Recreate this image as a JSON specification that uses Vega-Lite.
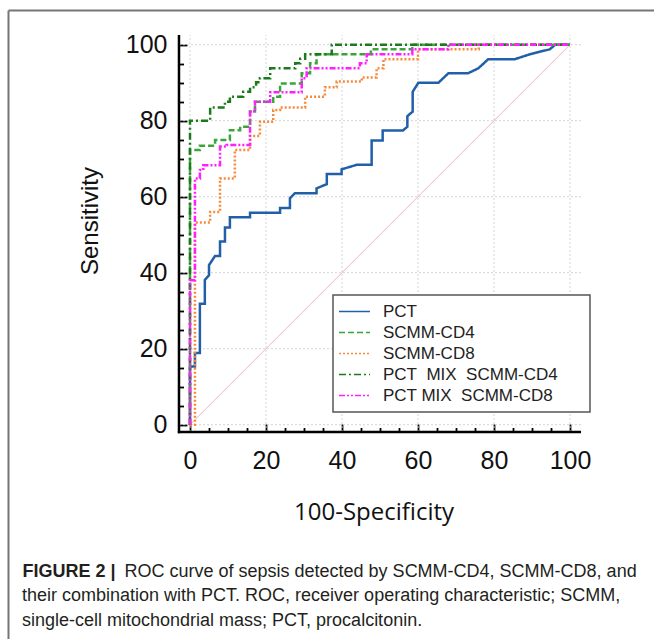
{
  "$schema": "https://vega.github.io/schema/vega-lite/v6.json",
  "width": 646,
  "height": 629,
  "autosize": {"type": "none"},
  "padding": {"left": 8, "top": 10, "right": 0, "bottom": 0},
  "background": "#ffffff",
  "config": {"view": {"stroke": null}, "legend": {"strokeWidth": 1.5, "symbolStrokeWidth": 1.3}},
  "title": {
    "text": ["their combination with PCT. ROC, receiver operating characteristic; SCMM,", "single-cell mitochondrial mass; PCT, procalcitonin."],
    "orient": "bottom",
    "anchor": "start",
    "frame": "group",
    "offset": 0,
    "dx": 14,
    "dy": -38,
    "baseline": "alphabetic",
    "font": "Liberation Sans",
    "fontSize": 18,
    "fontWeight": "normal",
    "color": "#231f20",
    "lineHeight": 24.5
  },
  "datasets": {
    "grid": [{"g": 0}, {"g": 20}, {"g": 40}, {"g": 60}, {"g": 80}, {"g": 100}],
    "roc": [
      {"s": "PCT", "x": 0, "y": 0}, {"s": "PCT", "x": 0, "y": 15.3}, {"s": "PCT", "x": 1.3, "y": 15.3}, {"s": "PCT", "x": 1.3, "y": 18.9}, {"s": "PCT", "x": 2.6, "y": 18.9}, {"s": "PCT", "x": 2.6, "y": 31.8}, {"s": "PCT", "x": 3.9, "y": 31.8}, {"s": "PCT", "x": 3.9, "y": 38.1}, {"s": "PCT", "x": 5, "y": 39.3}, {"s": "PCT", "x": 5, "y": 42}, {"s": "PCT", "x": 6.6, "y": 44.4}, {"s": "PCT", "x": 7.9, "y": 44.4}, {"s": "PCT", "x": 7.9, "y": 48.2}, {"s": "PCT", "x": 9.2, "y": 48.2}, {"s": "PCT", "x": 9.2, "y": 51.9}, {"s": "PCT", "x": 10.5, "y": 51.9}, {"s": "PCT", "x": 10.5, "y": 54.6}, {"s": "PCT", "x": 15.8, "y": 54.6}, {"s": "PCT", "x": 15.8, "y": 55.8}, {"s": "PCT", "x": 23.7, "y": 55.8}, {"s": "PCT", "x": 23.7, "y": 57}, {"s": "PCT", "x": 26.3, "y": 57}, {"s": "PCT", "x": 26.3, "y": 59.6}, {"s": "PCT", "x": 27.6, "y": 60.9}, {"s": "PCT", "x": 33.3, "y": 60.9}, {"s": "PCT", "x": 33.3, "y": 62.2}, {"s": "PCT", "x": 36, "y": 63.3}, {"s": "PCT", "x": 36, "y": 66}, {"s": "PCT", "x": 39.9, "y": 66}, {"s": "PCT", "x": 39.9, "y": 67.2}, {"s": "PCT", "x": 43.9, "y": 68.4}, {"s": "PCT", "x": 47.8, "y": 68.4}, {"s": "PCT", "x": 47.8, "y": 74.8}, {"s": "PCT", "x": 50.7, "y": 74.8}, {"s": "PCT", "x": 50.7, "y": 77.4}, {"s": "PCT", "x": 56, "y": 77.4}, {"s": "PCT", "x": 57.2, "y": 78.4}, {"s": "PCT", "x": 57.2, "y": 81.2}, {"s": "PCT", "x": 58.6, "y": 82.4}, {"s": "PCT", "x": 58.6, "y": 87.6}, {"s": "PCT", "x": 60.1, "y": 90}, {"s": "PCT", "x": 65.4, "y": 90}, {"s": "PCT", "x": 68, "y": 92.5}, {"s": "PCT", "x": 73.2, "y": 92.5}, {"s": "PCT", "x": 75.9, "y": 93.8}, {"s": "PCT", "x": 78.5, "y": 96.2}, {"s": "PCT", "x": 85.5, "y": 96.2}, {"s": "PCT", "x": 89.5, "y": 97.5}, {"s": "PCT", "x": 94.7, "y": 98.8}, {"s": "PCT", "x": 96.1, "y": 100}, {"s": "PCT", "x": 100, "y": 100},
      {"s": "CD4", "x": 0, "y": 0}, {"s": "CD4", "x": 0, "y": 72.3}, {"s": "CD4", "x": 2.6, "y": 72.3}, {"s": "CD4", "x": 2.6, "y": 73.4}, {"s": "CD4", "x": 6.6, "y": 73.4}, {"s": "CD4", "x": 6.6, "y": 74.9}, {"s": "CD4", "x": 10.5, "y": 74.9}, {"s": "CD4", "x": 10.5, "y": 77.5}, {"s": "CD4", "x": 13.2, "y": 77.5}, {"s": "CD4", "x": 13.2, "y": 78.4}, {"s": "CD4", "x": 15.8, "y": 78.4}, {"s": "CD4", "x": 15.8, "y": 82.4}, {"s": "CD4", "x": 17.1, "y": 82.4}, {"s": "CD4", "x": 17.1, "y": 85}, {"s": "CD4", "x": 21.9, "y": 85}, {"s": "CD4", "x": 21.9, "y": 86.3}, {"s": "CD4", "x": 23.7, "y": 86.3}, {"s": "CD4", "x": 23.7, "y": 89.8}, {"s": "CD4", "x": 29.4, "y": 89.8}, {"s": "CD4", "x": 29.4, "y": 92.5}, {"s": "CD4", "x": 31.6, "y": 92.5}, {"s": "CD4", "x": 31.6, "y": 95.1}, {"s": "CD4", "x": 33.3, "y": 95.1}, {"s": "CD4", "x": 33.3, "y": 97.5}, {"s": "CD4", "x": 47.6, "y": 97.5}, {"s": "CD4", "x": 47.6, "y": 98.8}, {"s": "CD4", "x": 58.5, "y": 98.8}, {"s": "CD4", "x": 58.5, "y": 100}, {"s": "CD4", "x": 100, "y": 100},
      {"s": "CD8", "x": 0, "y": 0}, {"s": "CD8", "x": 1.3, "y": 0}, {"s": "CD8", "x": 1.3, "y": 53.2}, {"s": "CD8", "x": 5.3, "y": 53.2}, {"s": "CD8", "x": 5.3, "y": 56}, {"s": "CD8", "x": 7.9, "y": 56}, {"s": "CD8", "x": 7.9, "y": 64.8}, {"s": "CD8", "x": 11.8, "y": 64.8}, {"s": "CD8", "x": 11.8, "y": 72.3}, {"s": "CD8", "x": 15.8, "y": 72.3}, {"s": "CD8", "x": 15.8, "y": 76}, {"s": "CD8", "x": 18.4, "y": 76}, {"s": "CD8", "x": 18.4, "y": 79.7}, {"s": "CD8", "x": 21.9, "y": 79.7}, {"s": "CD8", "x": 21.9, "y": 82.8}, {"s": "CD8", "x": 23.7, "y": 82.8}, {"s": "CD8", "x": 23.7, "y": 83.5}, {"s": "CD8", "x": 30.3, "y": 83.5}, {"s": "CD8", "x": 30.3, "y": 86.3}, {"s": "CD8", "x": 35.5, "y": 86.3}, {"s": "CD8", "x": 35.5, "y": 88.8}, {"s": "CD8", "x": 38.6, "y": 88.8}, {"s": "CD8", "x": 38.6, "y": 90.3}, {"s": "CD8", "x": 45.2, "y": 90.3}, {"s": "CD8", "x": 45.2, "y": 91.4}, {"s": "CD8", "x": 49.1, "y": 91.4}, {"s": "CD8", "x": 49.1, "y": 93.8}, {"s": "CD8", "x": 50.9, "y": 93.8}, {"s": "CD8", "x": 50.9, "y": 96.2}, {"s": "CD8", "x": 60, "y": 96.2}, {"s": "CD8", "x": 60, "y": 98.8}, {"s": "CD8", "x": 76, "y": 98.8}, {"s": "CD8", "x": 76, "y": 100}, {"s": "CD8", "x": 100, "y": 100},
      {"s": "MIX4", "x": 0, "y": 0}, {"s": "MIX4", "x": 0, "y": 80}, {"s": "MIX4", "x": 5.3, "y": 80}, {"s": "MIX4", "x": 5.3, "y": 83.5}, {"s": "MIX4", "x": 9.2, "y": 83.5}, {"s": "MIX4", "x": 9.2, "y": 85}, {"s": "MIX4", "x": 10.5, "y": 85}, {"s": "MIX4", "x": 10.5, "y": 86.3}, {"s": "MIX4", "x": 14, "y": 86.3}, {"s": "MIX4", "x": 14, "y": 87.6}, {"s": "MIX4", "x": 15.8, "y": 87.6}, {"s": "MIX4", "x": 15.8, "y": 88.8}, {"s": "MIX4", "x": 17.4, "y": 88.8}, {"s": "MIX4", "x": 17.4, "y": 90.1}, {"s": "MIX4", "x": 18.4, "y": 90.1}, {"s": "MIX4", "x": 18.4, "y": 91.2}, {"s": "MIX4", "x": 21.1, "y": 91.2}, {"s": "MIX4", "x": 21.1, "y": 93.8}, {"s": "MIX4", "x": 27.7, "y": 93.8}, {"s": "MIX4", "x": 27.7, "y": 95.1}, {"s": "MIX4", "x": 29, "y": 95.1}, {"s": "MIX4", "x": 29, "y": 96.3}, {"s": "MIX4", "x": 30.3, "y": 96.3}, {"s": "MIX4", "x": 30.3, "y": 97.5}, {"s": "MIX4", "x": 37.3, "y": 97.5}, {"s": "MIX4", "x": 37.3, "y": 100}, {"s": "MIX4", "x": 100, "y": 100},
      {"s": "MIX8", "x": 0, "y": 0}, {"s": "MIX8", "x": 0, "y": 38}, {"s": "MIX8", "x": 1.3, "y": 38}, {"s": "MIX8", "x": 1.3, "y": 64.8}, {"s": "MIX8", "x": 2.6, "y": 64.8}, {"s": "MIX8", "x": 2.6, "y": 67}, {"s": "MIX8", "x": 3.5, "y": 67}, {"s": "MIX8", "x": 3.5, "y": 68.3}, {"s": "MIX8", "x": 7.9, "y": 68.3}, {"s": "MIX8", "x": 7.9, "y": 73.2}, {"s": "MIX8", "x": 9.6, "y": 73.2}, {"s": "MIX8", "x": 9.6, "y": 73.6}, {"s": "MIX8", "x": 15.8, "y": 73.6}, {"s": "MIX8", "x": 15.8, "y": 82.4}, {"s": "MIX8", "x": 17.1, "y": 82.4}, {"s": "MIX8", "x": 17.1, "y": 85}, {"s": "MIX8", "x": 21.1, "y": 85}, {"s": "MIX8", "x": 21.1, "y": 87.5}, {"s": "MIX8", "x": 29.4, "y": 87.5}, {"s": "MIX8", "x": 29.4, "y": 91.2}, {"s": "MIX8", "x": 30.7, "y": 91.2}, {"s": "MIX8", "x": 30.7, "y": 93.8}, {"s": "MIX8", "x": 44.7, "y": 93.8}, {"s": "MIX8", "x": 44.7, "y": 95.1}, {"s": "MIX8", "x": 46.5, "y": 95.1}, {"s": "MIX8", "x": 46.5, "y": 97.5}, {"s": "MIX8", "x": 58.5, "y": 97.5}, {"s": "MIX8", "x": 58.5, "y": 98.8}, {"s": "MIX8", "x": 68, "y": 98.8}, {"s": "MIX8", "x": 68, "y": 100}, {"s": "MIX8", "x": 100, "y": 100}
    ]
  },
  "layer": [
    {
      "data": {"name": "grid"},
      "mark": {"type": "rule", "color": "#d4d4d4", "strokeDash": [2, 2], "strokeWidth": 1},
      "encoding": {
        "x": {"field": "g", "type": "quantitative", "scale": {"domain": [-47.895, 122.105], "nice": false, "zero": false}, "axis": null},
        "y": {"datum": -1.92, "type": "quantitative", "scale": {"domain": [-56.395, 109.132], "nice": false, "zero": false}, "axis": null},
        "y2": {"datum": 102.55}
      }
    },
    {
      "data": {"name": "grid"},
      "mark": {"type": "rule", "color": "#d4d4d4", "strokeDash": [2, 2], "strokeWidth": 1},
      "encoding": {
        "y": {"field": "g", "type": "quantitative", "scale": {"domain": [-56.395, 109.132], "nice": false, "zero": false}, "axis": null},
        "x": {"datum": -2.9, "type": "quantitative", "scale": {"domain": [-47.895, 122.105], "nice": false, "zero": false}, "axis": null},
        "x2": {"datum": 102.9}
      }
    },
    {
      "data": {"values": [{}]},
      "mark": {"type": "rule", "color": "#ecb6c0", "strokeWidth": 1},
      "encoding": {
        "x": {"datum": 0, "type": "quantitative", "scale": {"domain": [-47.895, 122.105], "nice": false, "zero": false},
          "axis": {"orient": "top", "offset": 0, "domain": true, "domainColor": "#767676", "domainWidth": 2, "ticks": false, "labels": false, "grid": false,
            "title": "FIGURE 2 |", "titleFont": "Liberation Sans", "titleFontSize": 18, "titleFontWeight": "bold", "titleColor": "#231f20",
            "titleX": 14, "titleY": 566, "titleAlign": "left", "titleBaseline": "alphabetic", "titleAngle": 0}},
        "y": {"datum": 0, "type": "quantitative", "scale": {"domain": [-56.395, 109.132], "nice": false, "zero": false},
          "axis": {"orient": "left", "offset": 0, "domain": true, "domainColor": "#767676", "domainWidth": 2, "ticks": false, "labels": false, "grid": false,
            "title": "ROC curve of sepsis detected by SCMM-CD4, SCMM-CD8, and", "titleFont": "Liberation Sans", "titleFontSize": 18, "titleFontWeight": "normal", "titleColor": "#231f20",
            "titleX": 116, "titleY": 566, "titleAlign": "left", "titleBaseline": "alphabetic", "titleAngle": 0}},
        "x2": {"datum": 100},
        "y2": {"datum": 100}
      }
    },
    {
      "data": {"name": "roc"},
      "mark": {"type": "line", "strokeJoin": "miter", "strokeWidth": 2.5},
      "encoding": {
        "x": {"field": "x", "type": "quantitative", "scale": {"domain": [-47.895, 122.105], "nice": false, "zero": false},
          "axis": {"orient": "bottom", "offset": -207, "domain": false, "grid": false,
            "values": [0, 5, 10, 15, 20, 25, 30, 35, 40, 45, 50, 55, 60, 65, 70, 75, 80, 85, 90, 95, 100],
            "tickColor": "#000000", "tickWidth": 1.8,
            "tickSize": {"condition": {"test": "datum.value % 20 === 0", "value": -8}, "value": -4.5},
            "labelExpr": "datum.value % 20 === 0 ? datum.label : ''",
            "labelFont": "Liberation Sans", "labelFontSize": 25, "labelColor": "#111111", "labelPadding": 24,
            "labelFlush": false, "labelOverlap": false, "labelBound": false,
            "title": "100-Specificity", "titleFont": "Open Sans", "titleFontSize": 24, "titleFontWeight": "normal", "titleColor": "#111111",
            "titleX": 365.5, "titleY": 87, "titleAlign": "center", "titleBaseline": "alphabetic", "titleAngle": 0}},
        "y": {"field": "y", "type": "quantitative", "scale": {"domain": [-56.395, 109.132], "nice": false, "zero": false},
          "axis": {"orient": "left", "offset": -171, "domain": false, "grid": false,
            "values": [0, 5, 10, 15, 20, 25, 30, 35, 40, 45, 50, 55, 60, 65, 70, 75, 80, 85, 90, 95, 100],
            "tickColor": "#000000", "tickWidth": 1.8,
            "tickSize": {"condition": {"test": "datum.value % 20 === 0", "value": -8}, "value": -4.5},
            "labelExpr": "datum.value % 20 === 0 ? datum.label : ''",
            "labelFont": "Liberation Sans", "labelFontSize": 25, "labelColor": "#111111", "labelPadding": 20,
            "labelFlush": false, "labelOverlap": false, "labelBound": false,
            "title": "Sensitivity", "titleFont": "Liberation Sans", "titleFontSize": 24, "titleFontWeight": "normal", "titleColor": "#111111",
            "titleX": -82, "titleY": 210.5, "titleAlign": "center", "titleBaseline": "alphabetic", "titleAngle": 270}},
        "color": {"field": "s", "type": "nominal",
          "scale": {"domain": ["PCT", "CD4", "CD8", "MIX4", "MIX8"], "range": ["#2160a9", "#3aa53a", "#f58a3c", "#1c7a1c", "#ff1fff"]},
          "legend": {"orient": "none", "legendX": 325, "legendY": 285, "title": null, "padding": 8,
            "strokeColor": "#555555", "fillColor": "#ffffff",
            "labelFont": "Liberation Sans", "labelFontSize": 17, "labelColor": "#222222", "labelLimit": 400, "labelOffset": 20,
            "labelExpr": "datum.label === 'PCT' ? 'PCT' : datum.label === 'CD4' ? 'SCMM-CD4' : datum.label === 'CD8' ? 'SCMM-CD8' : datum.label === 'MIX4' ? 'PCT\u00a0 MIX\u00a0 SCMM-CD4\u00a0\u00a0\u00a0\u00a0\u00a0\u200b' : 'PCT MIX\u00a0 SCMM-CD8'",
            "symbolType": "M-2,0L2,0", "symbolSize": 240, "symbolStrokeWidth": 1.3, "symbolOffset": 5, "rowPadding": 3}},
        "strokeDash": {"field": "s", "type": "nominal",
          "scale": {"domain": ["PCT", "CD4", "CD8", "MIX4", "MIX8"], "range": [[1, 0], [6, 3], [2, 2], [7, 3, 2, 3], [6, 2, 2, 2, 2, 2]]},
          "legend": {"orient": "none", "legendX": 325, "legendY": 285, "title": null, "padding": 8,
            "strokeColor": "#555555", "fillColor": "#ffffff",
            "labelFont": "Liberation Sans", "labelFontSize": 17, "labelColor": "#222222", "labelLimit": 400, "labelOffset": 20,
            "labelExpr": "datum.label === 'PCT' ? 'PCT' : datum.label === 'CD4' ? 'SCMM-CD4' : datum.label === 'CD8' ? 'SCMM-CD8' : datum.label === 'MIX4' ? 'PCT\u00a0 MIX\u00a0 SCMM-CD4\u00a0\u00a0\u00a0\u00a0\u00a0\u200b' : 'PCT MIX\u00a0 SCMM-CD8'",
            "symbolType": "M-2,0L2,0", "symbolSize": 240, "symbolStrokeWidth": 1.3, "symbolOffset": 5, "rowPadding": 3}},
        "order": {"value": null}
      }
    },
    {
      "data": {"values": [{}]},
      "mark": {"type": "rule", "color": "#000000", "strokeWidth": 2.5},
      "encoding": {
        "x": {"datum": -3.2, "type": "quantitative", "scale": {"domain": [-47.895, 122.105], "nice": false, "zero": false}, "axis": null},
        "x2": {"datum": 102.9},
        "y": {"datum": -1.92, "type": "quantitative", "scale": {"domain": [-56.395, 109.132], "nice": false, "zero": false}, "axis": null}
      }
    },
    {
      "data": {"values": [{}]},
      "mark": {"type": "rule", "color": "#000000", "strokeWidth": 2.5},
      "encoding": {
        "x": {"datum": -2.9, "type": "quantitative", "scale": {"domain": [-47.895, 122.105], "nice": false, "zero": false}, "axis": null},
        "y": {"datum": -2.25, "type": "quantitative", "scale": {"domain": [-56.395, 109.132], "nice": false, "zero": false}, "axis": null},
        "y2": {"datum": 102.55}
      }
    }
  ],
  "resolve": {"axis": {"x": "independent", "y": "independent"}}
}
